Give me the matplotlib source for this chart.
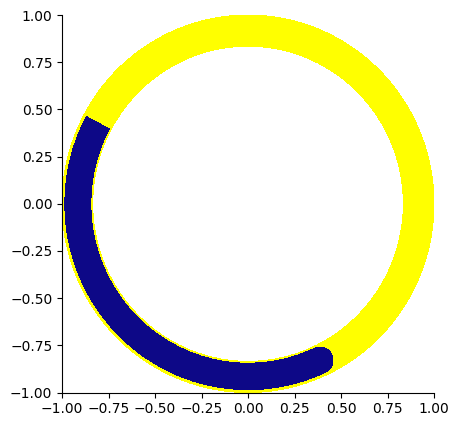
import numpy as np
import matplotlib
matplotlib.use("Agg")
import matplotlib.pyplot as plt
from matplotlib.patches import Wedge, Circle

# ring (background track)
ring_outer = 1.0
ring_width = 0.165
ring_color = "#ffff00"

# arc (progress part), angles in degrees, counter-clockwise
arc_start = 152.0
arc_end = 295.0
arc_outer = 0.985
arc_width = 0.14
arc_color = "#0d0887"

ticks = np.arange(-1.0, 1.01, 0.25)

fig = plt.figure(figsize=(4.53, 4.22), dpi=100)
ax = fig.add_axes([0.1369, 0.0699, 0.8212, 0.8945])

ax.add_patch(Wedge((0, 0), ring_outer, 0, 360, width=ring_width,
                   facecolor=ring_color, edgecolor="none", antialiased=False))
ax.add_patch(Wedge((0, 0), arc_outer, arc_start, arc_end, width=arc_width,
                   facecolor=arc_color, edgecolor="none", antialiased=False))

# rounded cap at the end of the arc
r_mid = arc_outer - arc_width / 2
t = np.deg2rad(arc_end)
ax.add_patch(Circle((r_mid * np.cos(t), r_mid * np.sin(t)), arc_width / 2,
                    facecolor=arc_color, edgecolor="none", antialiased=False))

ax.set_xlim(-1, 1)
ax.set_ylim(-1, 1)
ax.set_xticks(ticks)
ax.set_yticks(ticks)
ax.xaxis.set_major_formatter(matplotlib.ticker.FormatStrFormatter("%.2f"))
ax.yaxis.set_major_formatter(matplotlib.ticker.FormatStrFormatter("%.2f"))
ax.xaxis.set_major_formatter(matplotlib.ticker.FuncFormatter(lambda v, p: f"{v:.2f}".replace("-", "\u2212")))
ax.yaxis.set_major_formatter(matplotlib.ticker.FuncFormatter(lambda v, p: f"{v:.2f}".replace("-", "\u2212")))
ax.spines["top"].set_visible(False)
ax.spines["right"].set_visible(False)

fig.savefig("out.png", dpi=100)
